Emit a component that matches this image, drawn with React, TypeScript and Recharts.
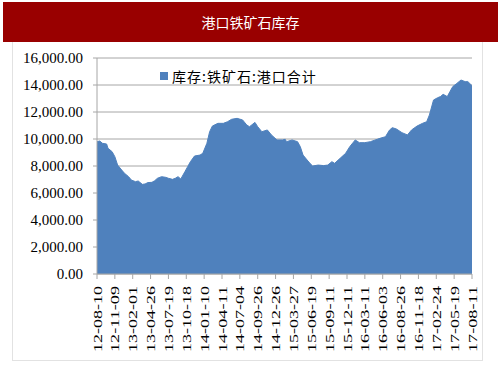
import { Area, AreaChart, CartesianGrid, XAxis, YAxis } from "recharts";

const TITLE = "港口铁矿石库存";
const SERIES_NAME = "库存:铁矿石:港口合计";

// x-axis labels, one every 13 weeks
const LABELS = [
  "12-08-10", "12-11-09", "13-02-01", "13-04-26", "13-07-19", "13-10-18",
  "14-01-10", "14-04-11", "14-07-04", "14-09-26", "14-12-26", "15-03-27",
  "15-06-19", "15-09-11", "15-12-11", "16-03-11", "16-06-03", "16-08-26",
  "16-11-18", "17-02-24", "17-05-19", "17-08-11",
];
const WEEKS_PER_LABEL = 13;

// week index since 12-08-10, and port inventory (10k t)
const WEEKS = [
  0, 2, 4, 7, 8, 11, 13, 15, 18, 20, 23, 25, 28, 30, 33, 35, 37, 40, 42, 44,
  47, 50, 52, 55, 57, 59, 61, 64, 66, 68, 71, 75, 77, 80, 82, 84, 88, 92, 95, 98,
  102, 106, 109, 111, 115, 117, 120, 124, 127, 131, 135, 137, 138, 142, 146, 148, 150, 153, 155, 157,
  161, 165, 168, 171, 173, 177, 181, 184, 188, 191, 195, 199, 204, 206, 210, 213, 215, 218, 222, 226,
  229, 233, 237, 240, 242, 245, 248, 250, 252, 255, 257, 259, 262, 265, 268, 270, 273,
];
const STOCK = [
  9800, 9850, 9680, 9630, 9310, 9060, 8690, 8070, 7700, 7460, 7210, 6960, 6840, 6890, 6640, 6670, 6770, 6790, 6910, 7090,
  7210, 7160, 7090, 7010, 7090, 7210, 7040, 7580, 7950, 8320, 8740, 8810, 8940, 9680, 10540, 10960, 11160, 11160, 11280, 11460,
  11530, 11410, 11040, 10910, 11230, 10910, 10540, 10670, 10300, 9930, 9930, 9980, 9800, 9930, 9800, 9430, 8810, 8440, 8200, 8000,
  8070, 8030, 8070, 8320, 8200, 8570, 8940, 9430, 9930, 9730, 9730, 9800, 9980, 10050, 10170, 10670, 10840, 10740, 10470, 10300,
  10670, 10960, 11160, 11280, 11780, 12890, 13060, 13140, 13310, 13140, 13520, 13880, 14120, 14370, 14250, 14250, 13950,
];

const Y_TICKS = [0, 2000, 4000, 6000, 8000, 10000, 12000, 14000, 16000];

const data = WEEKS.map((w, i) => ({ w, v: STOCK[i] }));
const xTicks = LABELS.map((_, i) => i * WEEKS_PER_LABEL);

const BLUE = "#4F81BD";
const GRID = "#A6A6A6";
const SERIF = "'Liberation Serif', 'Times New Roman', serif";
const CJK = "'Noto Sans CJK SC', sans-serif";

function XTick({ x, y, payload }: { x?: number; y?: number; payload?: { value: number } }) {
  const label = LABELS[Math.round((payload?.value ?? 0) / WEEKS_PER_LABEL)];
  return (
    <text
      transform={`translate(${(x ?? 0) + 4.5},${(y ?? 0) + 5}) rotate(-90)`}
      textAnchor="end"
      fontFamily={SERIF}
      fontSize={12}
      fill="#000"
      textLength={66}
      lengthAdjust="spacingAndGlyphs"
    >
      {label}
    </text>
  );
}

export default function App() {
  return (
    <div style={{ position: "absolute", left: 0, top: 0, width: 503, height: 378, background: "#fff" }}>
      <div
        style={{
          position: "absolute", left: 3, top: 2, width: 495, height: 40, background: "#990000",
          color: "#fff", fontFamily: CJK, fontSize: 14, lineHeight: "40px", textAlign: "center",
        }}
      >
        {TITLE}
      </div>
      <div
        style={{
          position: "absolute", left: 12, top: 42, width: 471, height: 319,
          border: "1px solid #E2E2E2", borderTop: "none", boxSizing: "border-box",
        }}
      />
      <div style={{ position: "absolute", left: 0, top: 0 }}>
        <AreaChart width={503} height={378} data={data} margin={{ top: 58, right: 31, bottom: 34, left: 7 }}>
          <CartesianGrid horizontal vertical={false} stroke={GRID} />
          <XAxis
            type="number"
            dataKey="w"
            domain={[0, 273]}
            ticks={xTicks}
            interval={0}
            height={70}
            tick={<XTick />}
            tickSize={5}
            stroke={GRID}
          />
          <YAxis
            domain={[0, 16000]}
            ticks={Y_TICKS}
            width={90}
            tickSize={4}
            tickMargin={10}
            stroke={GRID}
            tick={{ fill: "#000", fontSize: 15, fontFamily: SERIF }}
            tickFormatter={(v: number) => v.toLocaleString("en-US", { minimumFractionDigits: 2, maximumFractionDigits: 2 })}
          />
          <Area
            type="linear"
            dataKey="v"
            name={SERIES_NAME}
            stroke={BLUE}
            strokeWidth={1}
            fill={BLUE}
            fillOpacity={1}
            isAnimationActive={false}
          />
        </AreaChart>
      </div>
      {/* legend sits inside the plot, top left */}
      <div
        style={{
          position: "absolute", left: 160, top: 66, display: "flex", alignItems: "center",
          fontFamily: CJK, fontSize: 14, color: "#000", lineHeight: "20px", letterSpacing: 1,
        }}
      >
        <span style={{ width: 8, height: 8, background: BLUE, marginRight: 4, display: "inline-block" }} />
        {SERIES_NAME}
      </div>
    </div>
  );
}
